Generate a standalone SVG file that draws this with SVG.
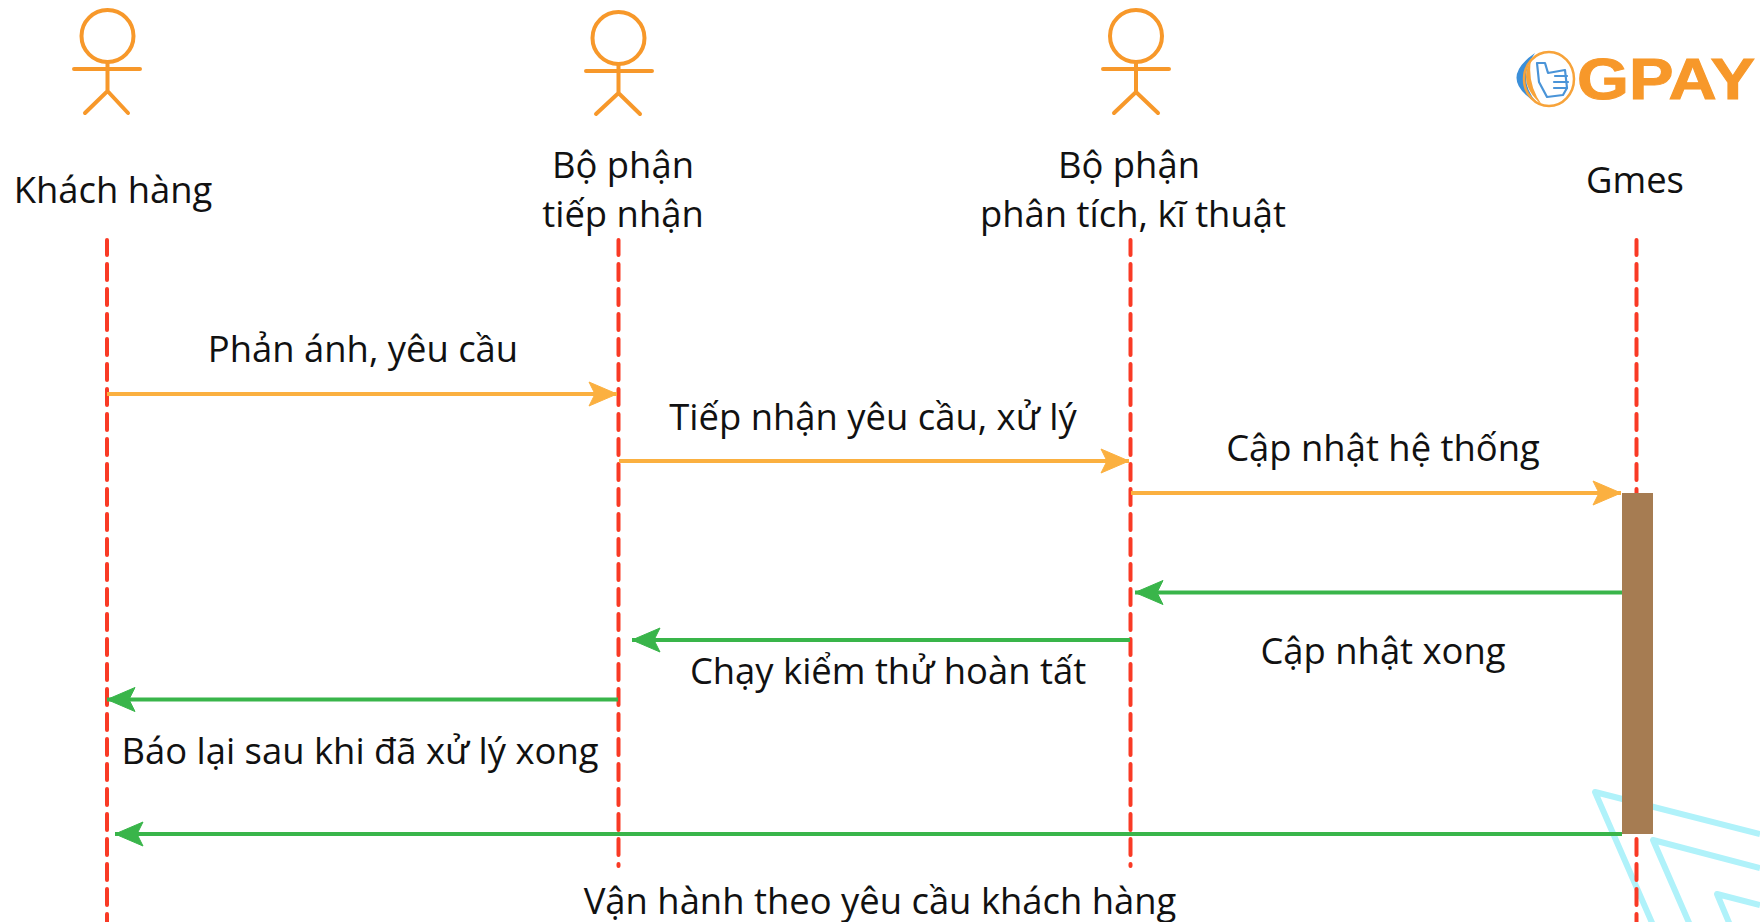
<svg xmlns="http://www.w3.org/2000/svg" width="1760" height="922" viewBox="0 0 1760 922">
<style>
text{font-family:"Open Sans","Noto Sans","Liberation Sans",sans-serif;font-size:36.4px;fill:#111;text-anchor:middle}
.actor{fill:none;stroke:#f7982a;stroke-width:4;stroke-linecap:round}
.life{stroke:#f93a25;stroke-width:4;stroke-dasharray:16 9;stroke-dashoffset:1;stroke-linecap:round;fill:none}
.o{stroke:#fbb040;stroke-width:4;fill:none}
.g{stroke:#39b54a;stroke-width:4;fill:none}
.chev{fill:none;stroke:#b0f2fa;stroke-width:6;stroke-linejoin:round}
.hand{fill:none;stroke:#4a94d8;stroke-width:2.200;stroke-linejoin:round;stroke-linecap:round}
</style>
<defs>
<marker id="ao" markerUnits="userSpaceOnUse" markerWidth="32" markerHeight="30" refX="30" refY="15" orient="auto"><path d="M2 3 L30 15 L2 27 L8 15 Z" fill="#fbb040" stroke="#fbb040" stroke-width="1" stroke-linejoin="round"/></marker>
<marker id="ag" markerUnits="userSpaceOnUse" markerWidth="32" markerHeight="30" refX="30" refY="15" orient="auto"><path d="M2 3 L30 15 L2 27 L8 15 Z" fill="#39b54a" stroke="#39b54a" stroke-width="1" stroke-linejoin="round"/></marker>
</defs>
<rect width="1760" height="922" fill="#fff"/>
<g id="decor">
<path class="chev" d="M1760 834 L1595 792 L1653 925"/>
<path class="chev" d="M1760 868 L1653 840 L1690 925"/>
<path class="chev" d="M1760 905 L1717 894 L1730 925"/>
</g>
<g id="lifelines">
<path class="life" d="M107 240V922"/>
<path class="life" d="M618.500 240V866"/>
<path class="life" d="M1130.500 240V866"/>
<path class="life" d="M1636.500 240V922"/>
</g>
<g id="actor-khach-hang">
<g class="actor"><circle cx="107.500" cy="36" r="26"/><path d="M107.500 62V91M74 69H140M85 113L107.500 91L128 113"/></g>
<text x="113" y="203">Khách hàng</text>
</g>
<g id="actor-tiep-nhan">
<g class="actor"><circle cx="618.500" cy="38" r="26"/><path d="M618.500 64V93M586 71H652M596 114L618.500 93L640 114"/></g>
<text x="623" y="178">Bộ phận</text><text x="623" y="227">tiếp nhận</text>
</g>
<g id="actor-phan-tich">
<g class="actor"><circle cx="1136" cy="36" r="26"/><path d="M1136 62V92M1103 69H1169M1114 113L1136 92L1158 113"/></g>
<text x="1129" y="178">Bộ phận</text><text x="1133" y="227">phân tích, kĩ thuật</text>
</g>
<g id="gmes">
<text x="1635" y="193">Gmes</text>
<rect x="1622" y="493" width="31" height="341" fill="#a67c52"/>
</g>
<g id="logo">
<path d="M1535 53 Q1497 79 1537 103 Q1516 79 1535 53Z" fill="#3b8fd9"/>
<ellipse cx="1549" cy="79" rx="25" ry="27" fill="none" stroke="#f7a33a" stroke-width="2.500"/>
<path d="M1531 60 Q1517 84 1542 105 Q1527 84 1531 60Z" fill="#f7a33a"/>
<path class="hand" d="M1537 63L1545 63L1548 73L1565 70L1567 88L1563 95L1547 97L1539 82Z"/>
<path class="hand" d="M1555 76H1567M1554 82H1568M1554 88H1567"/>
<text x="1577" y="99" textLength="178" lengthAdjust="spacingAndGlyphs" style="font-family:'Liberation Sans',sans-serif;font-weight:700;font-size:57px;fill:#f7982a;text-anchor:start;stroke:#f7982a;stroke-width:1">GPAY</text>
</g>
<g id="connectors">
<path class="o" d="M107 394H617" marker-end="url(#ao)"/>
<path class="o" d="M619 461H1129" marker-end="url(#ao)"/>
<path class="o" d="M1131 493H1621" marker-end="url(#ao)"/>
<path class="g" d="M1622 592.500H1135" marker-end="url(#ag)"/>
<path class="g" d="M1130 640H632" marker-end="url(#ag)"/>
<path class="g" d="M618 699.500H107" marker-end="url(#ag)"/>
<path class="g" d="M1622 834H115" marker-end="url(#ag)"/>
</g>
<g id="labels">
<text x="363" y="362">Phản ánh, yêu cầu</text>
<text x="873" y="430">Tiếp nhận yêu cầu, xử lý</text>
<text x="1383" y="461">Cập nhật hệ thống</text>
<text x="1383" y="664">Cập nhật xong</text>
<text x="888" y="684">Chạy kiểm thử hoàn tất</text>
<text x="360" y="764">Báo lại sau khi đã xử lý xong</text>
<text x="880" y="914">Vận hành theo yêu cầu khách hàng</text>
</g>
</svg>
